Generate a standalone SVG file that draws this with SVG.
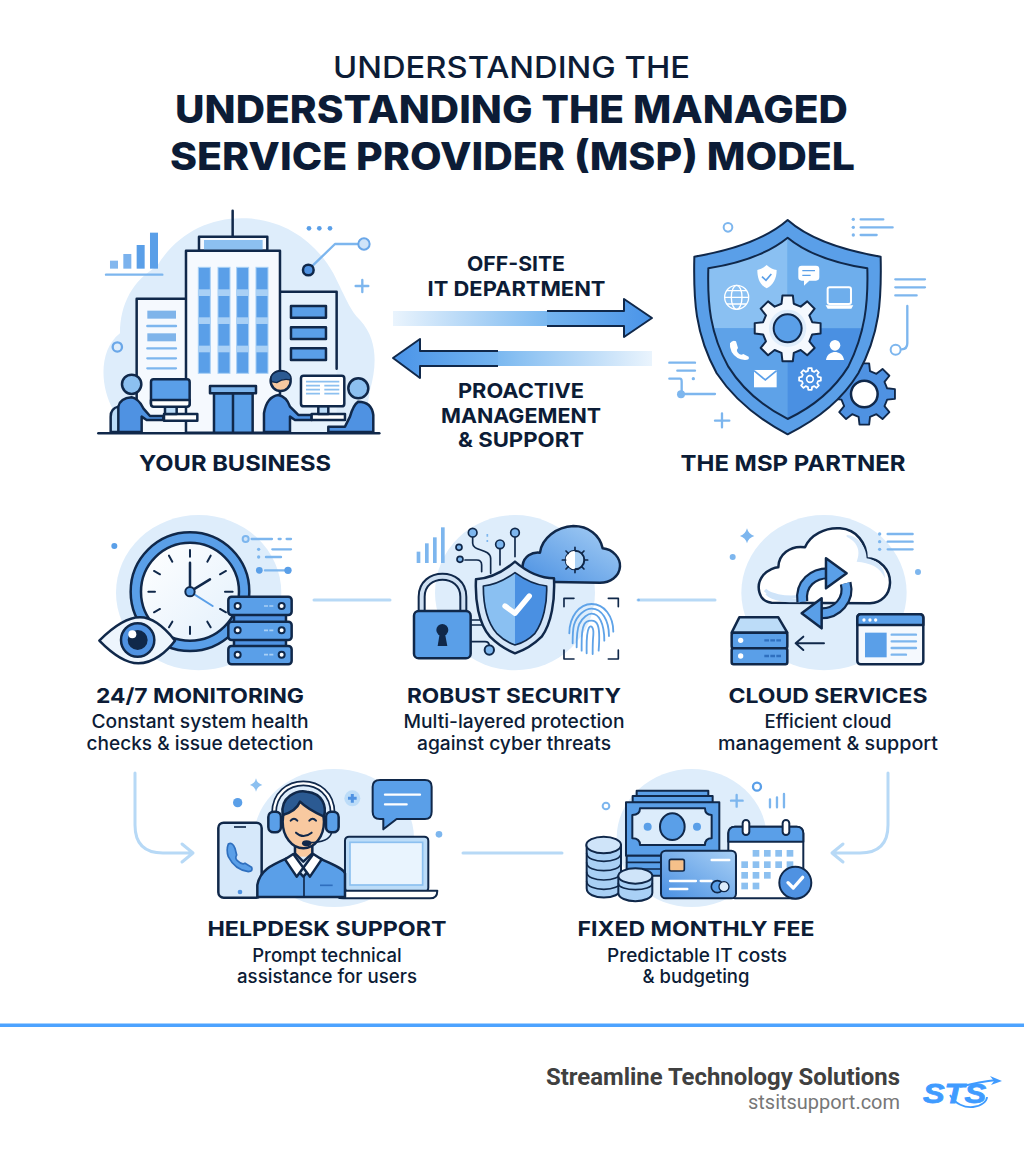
<svg xmlns="http://www.w3.org/2000/svg" xmlns:xlink="http://www.w3.org/1999/xlink" width="1024" height="1154" viewBox="0 0 1024 1154">
<style>
text{font-family:"Inter","Liberation Sans",sans-serif;fill:#0c1c36;text-anchor:middle}
.t1{font-size:30.5px;font-weight:500}
.t2{font-size:38.5px;font-weight:800}
.h{font-size:22px;font-weight:700}
.l{font-size:20.5px;font-weight:700}
.s{font-size:18.5px;font-weight:500}
.k{stroke:#10284a;stroke-width:7.5;stroke-linejoin:round;stroke-linecap:round}
.kn{fill:none;stroke:#10284a;stroke-width:7.5;stroke-linejoin:round;stroke-linecap:round}
.bg{fill:#deedfb}
.d{fill:#5a9fe8}.m{fill:#4f92e2}.p{fill:#bcdcf8}.q{fill:#e6f2fd}.w{fill:#fff}.a{fill:#f5f9fe}
.ln{fill:none;stroke:#7db6ee;stroke-width:7;stroke-linecap:round;stroke-linejoin:round}
.wl{fill:none;stroke:#fff;stroke-width:7;stroke-linecap:round;stroke-linejoin:round}
.c{fill:none;stroke:#b7d9f6;stroke-width:3;stroke-linecap:round;stroke-linejoin:round}
</style>
<defs>
<linearGradient id="gr" x1="0" x2="1" y1="0" y2="0"><stop offset="0" stop-color="#eaf4fd"/><stop offset="1" stop-color="#7ab8f0"/></linearGradient>
<linearGradient id="gl" x1="1" x2="0" y1="0" y2="0"><stop offset="0" stop-color="#eaf4fd"/><stop offset="1" stop-color="#7ab8f0"/></linearGradient>
<linearGradient id="gar" x1="0" x2="1" y1="0" y2="0"><stop offset="0" stop-color="#74b4ef"/><stop offset="1" stop-color="#4a94e8"/></linearGradient>
<linearGradient id="gal" x1="1" x2="0" y1="0" y2="0"><stop offset="0" stop-color="#74b4ef"/><stop offset="1" stop-color="#4a94e8"/></linearGradient>
<linearGradient id="gc" x1="0" x2="1" y1="1" y2="0"><stop offset="0" stop-color="#4a90e2"/><stop offset="1" stop-color="#a9d0f5"/></linearGradient>
<linearGradient id="gt" x1="0" x2="1" y1="0" y2="1"><stop offset="0" stop-color="#fff"/><stop offset="1" stop-color="#e3f0fc"/></linearGradient>
<path id="gear" d="M73.7,-18.4L98.8,-15.6L98.8,15.6L73.7,18.4L65.1,39.1L80.9,58.8L58.8,80.9L39.1,65.1L18.4,73.7L15.6,98.8L-15.6,98.8L-18.4,73.7L-39.1,65.1L-58.8,80.9L-80.9,58.8L-65.1,39.1L-73.7,18.4L-98.8,15.6L-98.8,-15.6L-73.7,-18.4L-65.1,-39.1L-80.9,-58.8L-58.8,-80.9L-39.1,-65.1L-18.4,-73.7L-15.6,-98.8L15.6,-98.8L18.4,-73.7L39.1,-65.1L58.8,-80.9L80.9,-58.8L65.1,-39.1Z"/>
<clipPath id="si"><path d="M413,113C355,160 270,190 175,205C172,310 180,400 235,500C285,580 350,625 413,657C480,625 545,580 595,500C645,400 655,310 652,205C555,190 470,160 413,113Z"/></clipPath>
<clipPath id="secs"><path d="M345,188C315,210 285,225 250,228C250,280 260,335 290,370C310,390 330,400 345,405C365,400 385,390 405,370C430,335 442,280 440,228C405,225 375,210 345,188Z"/></clipPath>
</defs>
<rect width="1024" height="1154" fill="#fff"/>

<g id="title">
<text class="t1" x="511.5" y="78" textLength="357" lengthAdjust="spacingAndGlyphs">UNDERSTANDING THE</text>
<text class="t2" x="511.5" y="123" textLength="673" lengthAdjust="spacingAndGlyphs">UNDERSTANDING THE MANAGED</text>
<text class="t2" x="512.5" y="170" textLength="685" lengthAdjust="spacingAndGlyphs">SERVICE PROVIDER (MSP) MODEL</text>
</g>

<g id="connectors">
<rect x="393" y="311" width="155" height="15" fill="url(#gr)"/>
<path d="M547,311H624V299L652,318L624,337V326H547Z" fill="url(#gar)"/>
<path d="M547,311H624V299L652,318L624,337V326H547" fill="none" stroke="#10284a" stroke-width="2" stroke-linejoin="round"/>
<rect x="497" y="351" width="155" height="15" fill="url(#gl)"/>
<path d="M498,351H420V339L393,358L420,378V366H498Z" fill="url(#gal)"/>
<path d="M498,351H420V339L393,358L420,378V366H498" fill="none" stroke="#10284a" stroke-width="2" stroke-linejoin="round"/>
<path class="c" d="M314,600H390"/>
<path class="c" d="M638,600H715"/>
<path class="c" d="M463,853H562"/>
<path class="c" d="M135,773V825Q135,853 163,853H193M182,844L193,853L182,862"/>
<path class="c" d="M888,773V825Q888,853 860,853H832M843,844L832,853L843,862"/>
</g>

<g id="your-business">
<g transform="translate(90,200) scale(.3333)">
<path class="bg" d="M70,630C30,560 25,450 90,400C90,310 130,240 200,200C260,100 360,50 470,55C590,60 680,130 730,220C770,300 780,330 810,360C865,420 860,500 840,570L820,698H90Z"/>
<g class="d"><rect x="60" y="182" width="24" height="24" opacity=".75"/><rect x="100" y="162" width="24" height="44" opacity=".8"/><rect x="140" y="135" width="24" height="71"/><rect x="180" y="98" width="24" height="108"/></g>
<path class="ln" d="M48,224H217"/>
<path class="kn" d="M428,32V108"/>
<rect class="a k" x="327" y="110" width="205" height="42"/>
<rect x="342" y="120" width="176" height="30" fill="#8cc0f0"/>
<path class="a" d="M140,296H288V698H140Z"/>
<path class="kn" d="M288,296H140V698"/>
<rect x="172" y="332" width="86" height="24" fill="#7fb4ea"/><rect x="172" y="400" width="86" height="24" fill="#7fb4ea"/>
<path class="ln" d="M172,378H258M172,445H258M172,475H258M172,505H258" stroke-linecap="butt"/>
<path class="q" d="M570,275H740V698H570Z"/>
<path class="kn" d="M572,275H740V506"/>
<g class="d k"><rect x="603" y="318" width="105" height="35"/><rect x="603" y="382" width="105" height="35"/><rect x="603" y="445" width="105" height="35"/></g>
<path class="a k" d="M288,152H570V698H288Z"/>
<g class="d" stroke="#a9d0f5" stroke-width="3"><rect x="325" y="202" width="36" height="318"/><rect x="384" y="202" width="36" height="318"/><rect x="440" y="202" width="36" height="318"/><rect x="498" y="202" width="36" height="318"/></g>
<g fill="#a9d0f5"><rect x="325" y="268" width="36" height="20"/><rect x="384" y="268" width="36" height="20"/><rect x="440" y="268" width="36" height="20"/><rect x="498" y="268" width="36" height="20"/><rect x="325" y="352" width="36" height="20"/><rect x="384" y="352" width="36" height="20"/><rect x="440" y="352" width="36" height="20"/><rect x="498" y="352" width="36" height="20"/><rect x="325" y="437" width="36" height="20"/><rect x="384" y="437" width="36" height="20"/><rect x="440" y="437" width="36" height="20"/><rect x="498" y="437" width="36" height="20"/></g>
<rect class="d k" x="372" y="580" width="116" height="118"/>
<path class="kn" d="M429,580V698"/>
<rect x="360" y="558" width="138" height="22" fill="#7db5ec" class="k"/>
<path class="p k" d="M85,620Q62,625 62,650V696H85"/>
<path class="m k" d="M85,696V620Q90,595 125,592Q145,595 160,625L180,648H220V660H170L155,650V696Z"/>
<circle class="p k" cx="125" cy="553" r="29" style="fill:#8cc0f0"/>
<rect class="w k" x="222" y="642" width="100" height="20"/>
<path class="p k" d="M225,620H260V642H225Z"/>
<rect class="d k" x="183" y="538" width="116" height="80" rx="8"/>
<path class="w k" d="M183,600H299V612Q299,620 291,620H191Q183,620 183,612Z"/>
<path class="q" d="M600,696V645H770V696Z"/>
<path class="m k" d="M522,696V640Q530,590 565,585Q590,590 600,620L625,645H665V660H615L600,650V696Z"/>
<circle cx="572" cy="543" r="30" fill="#f8c9a0" class="k"/>
<path d="M545,545C535,515 570,510 590,516C605,525 605,535 600,540C585,535 575,538 560,548Z" fill="#2b5a92" stroke="#10284a" stroke-width="4"/>
<rect class="w k" x="665" y="642" width="100" height="18"/>
<path class="p k" d="M685,618H715V642H685Z"/>
<rect class="w k" x="633" y="527" width="130" height="92" rx="8"/>
<path d="M648,545H748M648,557H690M703,557H748M648,569H690M703,569H748M648,581H690M703,581H748" stroke="#8cc0f0" stroke-width="5"/>
<path class="m k" d="M850,696V645Q845,605 805,605Q790,615 780,650L765,680H715V696Z"/>
<circle cx="805" cy="565" r="30" fill="#8cc0f0" class="k"/>
<path class="kn" d="M25,700H868"/>
<g class="d"><circle cx="657" cy="85" r="7"/><circle cx="688" cy="85" r="7"/><circle cx="720" cy="85" r="7"/></g>
<path class="ln" d="M668,197L735,132H805M817,240V276M797,258H835"/>
<circle cx="822" cy="132" r="17" fill="#cfe4f9" stroke="#6aa7e8" stroke-width="6"/>
<circle class="m k" cx="655" cy="210" r="16"/>
<circle cx="82" cy="441" r="14" fill="none" stroke="#6aa7e8" stroke-width="7"/>
</g>
<text class="h" x="235" y="471" textLength="192" lengthAdjust="spacingAndGlyphs">YOUR BUSINESS</text>
</g>

<g id="msp-partner">
<g transform="translate(650,200) scale(.3333)">
<use href="#gear" transform="translate(643,582) scale(.93)" class="m k" style="stroke-width:6"/>
<circle cx="643" cy="582" r="40" class="w k"/>
<path d="M413,60C350,115 250,150 133,170C130,300 135,400 200,520C260,610 340,665 413,703C490,665 570,610 625,520C690,400 695,300 692,170C575,150 475,115 413,60Z" class="d k" style="stroke-width:6"/>
<g clip-path="url(#si)"><rect x="170" y="100" width="243" height="285" fill="#8ac0f2"/><rect x="413" y="100" width="245" height="285" fill="#6eaeec"/><rect x="170" y="385" width="243" height="280" fill="#5ea2e8"/><rect x="413" y="385" width="245" height="280" fill="#4a90e2"/></g>
<path class="kn" style="stroke-width:6" d="M413,113C355,160 270,190 175,205C172,310 180,400 235,500C285,580 350,625 413,657C480,625 545,580 595,500C645,400 655,310 652,205C555,190 470,160 413,113Z"/>
<use href="#gear" transform="translate(413,385)" class="a k" style="stroke-width:6"/>
<circle cx="413" cy="385" r="56" fill="#dfedfb"/>
<circle cx="413" cy="385" r="42" class="d k" style="stroke-width:6"/>
<path class="w" d="M350,195C338,205 330,208 322,210C322,235 330,255 350,265C370,255 380,235 380,210C370,208 360,205 350,195Z"/>
<path d="M336,230L348,241L364,222" fill="none" stroke="#5a9fe8" stroke-width="5"/>
<path class="w" d="M455,197H498Q508,197 508,207V232Q508,242 498,242H478L462,257V242H455Q445,242 445,232V207Q445,197 455,197Z"/>
<path d="M457,212H495M457,226H482" stroke="#5a9fe8" stroke-width="4"/>
<rect x="533" y="262" width="70" height="50" rx="6" fill="none" stroke="#fff" stroke-width="6"/><path class="w" d="M527,316H610L604,326H533Z"/>
<g fill="none" stroke="#fff" stroke-width="4"><circle cx="260" cy="292" r="36"/><ellipse cx="260" cy="292" rx="16" ry="36"/><path d="M224,292H296M230,272H290M230,312H290"/></g>
<path class="w" d="M240,430Q248,418 258,424L264,444Q258,450 262,456Q270,468 280,462L296,470Q300,480 285,480Q258,478 245,456Q238,442 240,430Z"/>
<circle class="w" cx="555" cy="436" r="16"/><path class="w" d="M528,480C530,462 545,456 555,456C565,456 580,462 582,480Z"/>
<rect class="w" x="312" y="510" width="68" height="52"/><path d="M312,512L346,540L380,512" fill="none" stroke="#5a9fe8" stroke-width="5"/>
<use href="#gear" transform="translate(480,537) scale(.33)" fill="none" stroke="#fff" stroke-width="16" stroke-linejoin="round"/><circle cx="480" cy="537" r="10" fill="none" stroke="#fff" stroke-width="5"/>
<circle cx="234" cy="82" r="13" fill="none" stroke="#7db6ee" stroke-width="6"/>
<path class="ln" d="M632,58H700M632,82H728M632,105H680M736,238H825M736,262H825M736,286H800M772,318V430Q772,448 755,448M58,488H135M82,512H135M58,536H90Q95,536 95,545V582M95,582H195M195,662H238M216,640V682"/>
<circle cx="737" cy="449" r="15" fill="none" stroke="#7db6ee" stroke-width="6"/>
<g fill="#7db6ee"><circle cx="610" cy="58" r="5"/><circle cx="610" cy="82" r="5"/><circle cx="610" cy="105" r="5"/><circle cx="130" cy="536" r="5"/><circle cx="93" cy="583" r="12"/></g>
</g>
<text class="h" x="793" y="471" textLength="225" lengthAdjust="spacingAndGlyphs">THE MSP PARTNER</text>
</g>

<g id="flow-labels">
<text class="l" x="516" y="271" textLength="98" lengthAdjust="spacingAndGlyphs">OFF-SITE</text>
<text class="l" x="516.5" y="296" textLength="178" lengthAdjust="spacingAndGlyphs">IT DEPARTMENT</text>
<text class="l" x="521" y="398" textLength="126" lengthAdjust="spacingAndGlyphs">PROACTIVE</text>
<text class="l" x="521" y="423" textLength="160" lengthAdjust="spacingAndGlyphs">MANAGEMENT</text>
<text class="l" x="521" y="447" textLength="126" lengthAdjust="spacingAndGlyphs">&amp; SUPPORT</text>
</g>

<g id="monitoring">
<g transform="translate(90,510) scale(.3333)">
<ellipse class="bg" cx="326" cy="248" rx="248" ry="233"/>
<circle class="d k" cx="300" cy="245" r="178"/>
<circle class="k" cx="300" cy="245" r="147" fill="url(#gt)"/>
<path class="kn" style="stroke-width:6" d="M300,120V140M300,350V372M175,245H195M405,245H428M237,137L247,155M362,137L352,155M192,183L210,193M408,183L390,193M192,307L210,297M408,307L390,297M237,352L247,335M362,352L352,335"/>
<path class="kn" d="M300,245V158M300,245L360,208"/>
<path d="M300,245L368,288" stroke="#5a9fe8" stroke-width="6" stroke-linecap="round"/>
<circle class="d k" cx="300" cy="245" r="14" style="stroke-width:6"/>
<path class="k" fill="#edf5fd" d="M28,392C80,340 120,322 150,322C190,322 230,360 255,392C230,425 190,460 145,460C100,460 60,425 28,392Z"/>
<circle class="m k" cx="143" cy="390" r="50"/>
<circle cx="143" cy="390" r="30" fill="#10284a"/>
<circle cx="127" cy="373" r="12" fill="#fff"/>
<rect class="m k" x="432" y="312" width="156" height="100"/>
<g class="d k"><rect x="415" y="260" width="190" height="55" rx="10"/><rect x="415" y="335" width="190" height="55" rx="10"/><rect x="415" y="408" width="190" height="55" rx="10"/></g>
<g class="w k" style="stroke-width:6"><circle cx="443" cy="288" r="9"/><circle cx="575" cy="288" r="9"/><circle cx="443" cy="361" r="9"/><circle cx="575" cy="361" r="9"/><circle cx="443" cy="434" r="9"/><circle cx="575" cy="434" r="9"/></g>
<path d="M522,288H552M522,361H552M522,434H552" stroke="#a9d0f5" stroke-width="5" stroke-dasharray="12 4"/>
<circle cx="467" cy="87" r="9" fill="#cfe4f9" stroke="#7db6ee" stroke-width="6"/>
<path class="ln" d="M485,87H546M566,87H572M590,87H603M547,118H603M528,141H573M525,181H590"/>
<g fill="#7db6ee"><circle cx="506" cy="118" r="5"/><circle cx="506" cy="141" r="5"/></g>
<g class="d"><circle cx="508" cy="181" r="10"/><circle cx="594" cy="181" r="11"/><circle cx="73" cy="108" r="9"/></g>
</g>
<text class="l" x="200" y="703" textLength="208" lengthAdjust="spacingAndGlyphs">24/7 MONITORING</text>
<text class="s" x="200" y="728" textLength="217" lengthAdjust="spacingAndGlyphs">Constant system health</text>
<text class="s" x="200" y="750" textLength="227" lengthAdjust="spacingAndGlyphs">checks &amp; issue detection</text>
</g>

<g id="security">
<g transform="translate(400,510) scale(.3333)">
<ellipse class="bg" cx="345" cy="248" rx="240" ry="233"/>
<g fill="#7db6ee"><rect x="50" y="125" width="11" height="34"/><rect x="75" y="100" width="11" height="59"/><rect x="99" y="82" width="11" height="77"/><rect x="123" y="52" width="11" height="107"/></g>
<path class="kn" style="stroke-width:5" d="M218,80V100C218,125 270,115 272,145V190M300,115V165M345,80V140M195,150H230Q245,150 245,165V185"/>
<g fill="#7db6ee" class="k" style="stroke-width:5"><circle cx="218" cy="68" r="13"/><circle cx="300" cy="103" r="13"/><circle cx="345" cy="68" r="13"/><circle cx="177" cy="112" r="9"/><circle cx="180" cy="148" r="9"/></g>
<path d="M262,72V80M262,90V96" stroke="#7db6ee" stroke-width="5"/>
<path class="k" fill="url(#gc)" d="M420,215C385,215 365,190 368,165C372,140 395,125 420,128C425,85 470,50 520,48C565,48 600,75 608,115C640,118 662,145 660,170C658,200 630,218 600,218Z"/>
<circle cx="525" cy="150" r="28" fill="#a9d0f5" class="k" style="stroke-width:6"/>
<path d="M525,122V178A28,28 0 0 1 525,122Z" fill="#fff"/>
<path class="kn" style="stroke-width:5" d="M525,112V122M525,178V188M487,150H497M553,150H563M498,123L505,130M552,123L545,130M498,177L505,170M552,177L545,170"/>
<path class="kn" style="stroke-width:5" d="M215,330H280M215,345H280Q290,345 295,360M215,395H255Q268,395 268,408"/>
<circle cx="293" cy="337" r="13" fill="#cfe4f9" class="k" style="stroke-width:6"/>
<circle cx="268" cy="420" r="14" fill="#7db6ee" class="k" style="stroke-width:6"/>
<path class="k" fill="#d5e6f8" d="M345,155C310,185 270,205 228,208C225,270 235,340 270,380C295,405 320,420 345,430C375,420 400,405 425,380C455,340 465,270 462,205C420,205 380,185 345,155Z"/>
<g clip-path="url(#secs)"><rect x="240" y="180" width="105" height="240" fill="#8ac0f2"/><rect x="345" y="180" width="105" height="240" fill="#4a90e2"/></g>
<path class="kn" style="stroke-width:5" d="M345,188C315,210 285,225 250,228C250,280 260,335 290,370C310,390 330,400 345,405C365,400 385,390 405,370C430,335 442,280 440,228C405,225 375,210 345,188Z"/>
<path d="M315,288L345,310L388,258" fill="none" stroke="#fff" stroke-width="16" stroke-linecap="round" stroke-linejoin="round"/>
<path d="M65,303V260C65,180 190,180 190,260V303" fill="none" stroke="#10284a" stroke-width="24"/>
<path d="M65,303V260C65,180 190,180 190,260V303" fill="none" stroke="#cfe0f2" stroke-width="12"/>
<rect class="d k" x="42" y="303" width="170" height="142" rx="14"/>
<circle cx="127" cy="360" r="18" fill="#10284a"/><path d="M120,365L113,408H142L134,365Z" fill="#10284a"/>
<path class="kn" style="stroke-width:5" d="M492,290V265H522M655,290V265H625M492,420V447H522M655,420V447H625"/>
<g fill="none" stroke="#5fa3e8" stroke-width="5.5" stroke-linecap="round">
<path d="M508,370C508,320 538,282 575,282C614,282 640,320 640,365"/>
<path d="M518,400C518,375 518,360 522,345C530,316 555,296 575,296C605,296 627,330 627,378"/>
<path d="M530,412C530,380 530,360 538,342C548,322 565,311 575,311C597,311 613,340 613,392"/>
<path d="M545,422C545,390 543,360 553,343C562,328 587,328 593,345C600,360 598,395 596,422"/>
<path d="M560,430C560,400 558,370 567,353C573,343 582,353 580,375C578,395 578,410 578,432"/>
</g>
<circle cx="716" cy="270" r="4" fill="#7db6ee"/>
</g>
<text class="l" x="514" y="703" textLength="214" lengthAdjust="spacingAndGlyphs">ROBUST SECURITY</text>
<text class="s" x="514" y="728" textLength="221" lengthAdjust="spacingAndGlyphs">Multi-layered protection</text>
<text class="s" x="514" y="750" textLength="194" lengthAdjust="spacingAndGlyphs">against cyber threats</text>
</g>

<g id="cloud-services">
<g transform="translate(700,510) scale(.3333)">
<ellipse class="bg" cx="372" cy="248" rx="248" ry="233"/>
<path class="w k" d="M215,278C175,275 165,225 190,195C205,178 225,172 235,172C235,135 270,105 315,112C330,75 375,52 420,55C470,58 500,100 500,145C540,145 572,180 570,220C568,255 545,278 510,280Z"/>
<path d="M195,240C210,255 250,265 300,260M200,250C220,272 270,272 300,272" stroke="#cfe4f9" stroke-width="10" fill="none"/>
<path d="M440,80C480,100 480,130 470,155C510,158 540,170 555,205C555,170 530,150 500,145C500,110 470,75 440,75Z" fill="#d6e8fa"/>
<path d="M307,275C300,220 340,190 385,190" fill="none" stroke="#10284a" stroke-width="36"/>
<path d="M307,275C300,220 340,190 385,190" fill="none" stroke="#5a9fe8" stroke-width="23"/>
<path class="d k" d="M378,145L440,190L378,235Z"/>
<path d="M365,310C410,310 450,270 437,220" fill="none" stroke="#10284a" stroke-width="36"/>
<path d="M365,310C410,310 450,270 437,220" fill="none" stroke="#5a9fe8" stroke-width="23"/>
<path class="d k" d="M365,265L305,310L365,355Z"/>
<path class="p k" d="M118,322H235L262,368H95Z"/>
<g class="d k"><rect x="95" y="368" width="167" height="47" rx="6"/><rect x="95" y="415" width="167" height="48" rx="6"/></g>
<circle cx="122" cy="391" r="8" fill="#fff"/><circle cx="122" cy="438" r="8" fill="#fff"/>
<path d="M193,391H245M193,438H245" stroke="#2f6fbe" stroke-width="7" stroke-dasharray="14 4"/>
<path class="kn" style="stroke-width:6" d="M372,400H287M310,380L287,400L310,420"/>
<rect class="a k" x="472" y="313" width="198" height="150" rx="10"/>
<path class="d k" d="M482,313H660Q670,313 670,323V345H472V323Q472,313 482,313Z"/>
<g fill="#fff"><circle cx="492" cy="330" r="5"/><circle cx="510" cy="330" r="5"/><circle cx="527" cy="330" r="5"/></g>
<rect x="495" y="368" width="65" height="74" class="d"/>
<path class="ln" stroke-linecap="butt" d="M575,374H648M575,394H648M575,414H648M575,434H618"/>
<path class="ln" d="M563,72H638M563,95H638M563,118H638"/>
<g fill="#7db6ee"><circle cx="539" cy="72" r="5"/><circle cx="539" cy="95" r="5"/><circle cx="539" cy="118" r="5"/><circle cx="98" cy="141" r="9"/><circle cx="654" cy="186" r="9"/></g>
<path d="M141,55Q145,72 163,78Q145,84 141,100Q137,84 120,78Q137,72 141,55Z" fill="#7db6ee"/>
</g>
<text class="l" x="828" y="703" textLength="199" lengthAdjust="spacingAndGlyphs">CLOUD SERVICES</text>
<text class="s" x="828" y="728">Efficient cloud</text>
<text class="s" x="828" y="750" textLength="220" lengthAdjust="spacingAndGlyphs">management &amp; support</text>
</g>

<g id="helpdesk">
<g transform="translate(200,770) scale(.3333)">
<ellipse class="bg" cx="402" cy="204" rx="240" ry="207"/>
<rect x="55" y="158" width="130" height="225" rx="16" fill="#d6e8fa" class="k"/>
<path d="M102,171H138" stroke="#10284a" stroke-width="5"/>
<circle cx="120" cy="366" r="7" fill="#4f92e2"/>
<path d="M85,222Q97,215 105,235L110,255Q104,265 112,272Q125,285 135,280L155,292Q160,305 145,305Q105,300 85,260Q78,240 85,222Z" class="d" stroke="#2f6fbe" stroke-width="5"/>
<rect x="435" y="200" width="250" height="165" rx="12" fill="#bcdcf8" class="k" style="stroke-width:6"/>
<rect x="450" y="217" width="218" height="128" fill="#e9f4fe" stroke="#8cc0f0" stroke-width="5"/>
<path class="w k" style="stroke-width:6" d="M405,362H712Q712,385 690,385H430Q405,385 405,362Z"/>
<path class="d k" d="M172,381V345C180,300 215,285 260,265L310,320L360,265C400,285 430,295 435,310V381Z"/>
<path class="kn" style="stroke-width:5" d="M312,320V381"/>
<path d="M360,346H398" stroke="#2f6fbe" stroke-width="5"/>
<rect x="285" y="205" width="52" height="55" fill="#f8c9a0"/>
<path class="kn" d="M285,225V250L310,275L337,250V225"/>
<ellipse cx="310" cy="155" rx="62" ry="80" fill="#f8c9a0" class="k"/>
<path class="w k" d="M255,268L290,320L310,293L280,252Z"/>
<path class="w k" d="M365,268L330,320L310,293L340,252Z"/>
<path d="M248,135C240,80 290,60 320,65C370,70 380,110 372,140C350,130 320,115 300,95C290,120 265,130 248,135Z" fill="#2b5a92" class="k"/>
<path d="M222,130C222,10 398,10 398,130" fill="none" stroke="#10284a" stroke-width="17"/>
<path d="M222,130C222,10 398,10 398,130" fill="none" stroke="#fff" stroke-width="7"/>
<rect class="d k" x="205" y="125" width="38" height="62" rx="16"/>
<rect class="d k" x="378" y="125" width="38" height="62" rx="16"/>
<path class="kn" style="stroke-width:6" d="M272,152Q282,140 292,152M328,152Q338,140 348,152M288,188Q310,208 335,188"/>
<path class="kn" style="stroke-width:5" d="M395,187C390,210 360,218 325,218"/>
<ellipse cx="320" cy="220" rx="14" ry="9" fill="#10284a"/>
<path class="d k" style="stroke-width:6" d="M540,30H675Q695,30 695,50V125Q695,147 675,147H590L550,178V147H540Q518,147 518,125V50Q518,30 540,30Z"/>
<path class="wl" d="M555,74H660M555,103H620"/>
<circle cx="457" cy="85" r="24" fill="#bcdcf8"/><path d="M457,72V98M444,85H470" stroke="#4f92e2" stroke-width="9"/>
<path d="M168,25Q171,40 187,45Q171,50 168,65Q165,50 150,45Q165,40 168,25Z" fill="#8cc0f0"/>
<circle class="d" cx="113" cy="98" r="14"/><circle cx="717" cy="193" r="10" fill="#7db6ee"/>
</g>
<text class="l" x="327" y="936" textLength="239" lengthAdjust="spacingAndGlyphs">HELPDESK SUPPORT</text>
<text class="s" x="327" y="962">Prompt technical</text>
<text class="s" x="327" y="983" textLength="180" lengthAdjust="spacingAndGlyphs">assistance for users</text>
</g>

<g id="fixed-fee">
<g transform="translate(570,770) scale(.3333)">
<ellipse class="bg" cx="365" cy="204" rx="225" ry="207"/>
<rect class="d k" style="stroke-width:6" x="200" y="62" width="215" height="18"/>
<rect class="d k" style="stroke-width:6" x="188" y="78" width="240" height="20"/>
<rect class="d k" style="stroke-width:6" x="168" y="97" width="280" height="160"/>
<path fill="#dcecfb" class="k" style="stroke-width:6" d="M210,115H405Q405,135 425,135V205Q405,205 405,225H210Q210,205 187,205V135Q210,135 210,115Z"/>
<ellipse cx="307" cy="170" rx="37" ry="40" class="d k" style="stroke-width:6"/>
<circle class="d" cx="233" cy="170" r="12"/><circle class="d" cx="381" cy="170" r="12"/>
<rect class="d k" style="stroke-width:6" x="170" y="257" width="110" height="60"/>
<path class="kn" style="stroke-width:5" d="M170,277H280M170,297H280"/>
<path fill="#a9d0f5" class="k" style="stroke-width:6" d="M50,225V355C50,392 153,392 153,355V225Z"/>
<path class="kn" style="stroke-width:5" d="M50,250C50,282 153,282 153,250M50,278C50,310 153,310 153,278M50,306C50,338 153,338 153,306M50,334C50,366 153,366 153,334"/>
<ellipse cx="101" cy="225" rx="52" ry="25" fill="#cfe4f9" class="k" style="stroke-width:6"/>
<path fill="#a9d0f5" class="k" style="stroke-width:6" d="M145,318V368C145,402 247,402 247,368V318Z"/>
<path class="kn" style="stroke-width:5" d="M145,340C145,365 247,365 247,340"/>
<ellipse cx="196" cy="318" rx="51" ry="23" fill="#cfe4f9" class="k" style="stroke-width:6"/>
<rect x="475" y="170" width="225" height="215" rx="20" class="w k" style="stroke-width:6"/>
<path class="d k" style="stroke-width:6" d="M495,170H680Q700,170 700,190V215H475V190Q475,170 495,170Z"/>
<g fill="#fff" class="k" style="stroke-width:6"><rect x="518" y="150" width="20" height="45" rx="10"/><rect x="638" y="150" width="20" height="45" rx="10"/></g>
<g fill="#8cc0f0"><rect x="548" y="240" width="20" height="20"/><rect x="582" y="240" width="20" height="20"/><rect x="616" y="240" width="20" height="20"/><rect x="650" y="240" width="20" height="20"/>
<rect x="514" y="274" width="20" height="20"/><rect x="548" y="274" width="20" height="20"/><rect x="582" y="274" width="20" height="20"/><rect x="616" y="274" width="20" height="20"/><rect x="650" y="274" width="20" height="20"/>
<rect x="514" y="306" width="20" height="20"/><rect x="548" y="306" width="20" height="20"/><rect x="582" y="306" width="20" height="20"/>
<rect x="514" y="338" width="20" height="20"/><rect x="548" y="338" width="20" height="20"/></g>
<rect x="273" y="242" width="225" height="143" rx="14" fill="url(#gc)" class="k" style="stroke-width:6"/>
<rect x="298" y="268" width="45" height="35" rx="5" fill="#f6c08a" stroke="#10284a" stroke-width="5"/>
<path class="wl" d="M425,270H478M300,333H378M392,333H425M300,357H352"/>
<circle cx="442" cy="350" r="18" class="d k" style="stroke-width:5"/><circle cx="462" cy="350" r="15" fill="#dfedfb" stroke="#10284a" stroke-width="4"/>
<circle cx="676" cy="338" r="48" class="m k" style="stroke-width:6"/>
<path d="M654,338L670,354L698,322" fill="none" stroke="#fff" stroke-width="10" stroke-linecap="round" stroke-linejoin="round"/>
<circle cx="108" cy="108" r="10" fill="none" stroke="#7db6ee" stroke-width="6"/>
<circle cx="561" cy="50" r="12" fill="none" stroke="#5a9fe8" stroke-width="7"/>
<path class="ln" d="M500,75V110M483,92H518M600,88V112M621,82V112M642,72V112"/>
</g>
<text class="l" x="696" y="936" textLength="237" lengthAdjust="spacingAndGlyphs">FIXED MONTHLY FEE</text>
<text class="s" x="697" y="962" textLength="180" lengthAdjust="spacingAndGlyphs">Predictable IT costs</text>
<text class="s" x="696" y="983">&amp; budgeting</text>
</g>

<g id="footer">
<rect x="0" y="1023.5" width="1024" height="3.5" fill="#4da3ff"/>
<text x="900" y="1085" textLength="354" lengthAdjust="spacingAndGlyphs" style="font-family:Roboto,'Liberation Sans',sans-serif;text-anchor:end;fill:#404040;font-size:23.5px;font-weight:700">Streamline Technology Solutions</text>
<text x="900" y="1109" textLength="152" lengthAdjust="spacingAndGlyphs" style="font-family:Roboto,'Liberation Sans',sans-serif;text-anchor:end;fill:#777;font-size:19.5px;font-weight:400">stsitsupport.com</text>
<text x="923" y="1103" textLength="63" lengthAdjust="spacingAndGlyphs" style="font-family:'Liberation Sans',sans-serif;text-anchor:start;fill:#3f9bff;font-size:27px;font-weight:700;font-style:italic;stroke:#3f9bff;stroke-width:.8">STS</text>
<path d="M950,1095C955,1104 965,1108 973,1107C982,1106 987,1101 987,1097M960,1087C975,1083 987,1081 997,1080" fill="none" stroke="#3f9bff" stroke-width="1.8"/>
<path d="M990,1076L1002,1081L991,1085L994,1081Z" fill="#3f9bff"/>
</g>
</svg>
